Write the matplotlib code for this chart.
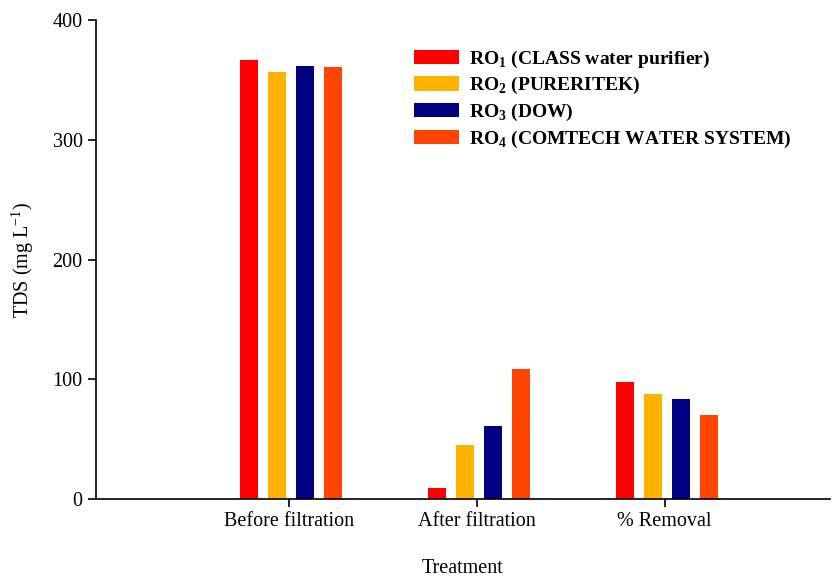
import numpy as np
import matplotlib.pyplot as plt

plt.rcParams['font.family'] = ['Liberation Serif', 'DejaVu Serif']
plt.rcParams['mathtext.fontset'] = 'custom'
plt.rcParams['mathtext.rm'] = 'Liberation Serif'
plt.rcParams['mathtext.bf'] = 'Liberation Serif:bold'

# datos
categorias = ['Before filtration', 'After filtration', '% Removal']
ro1 = [366.5, 9.2, 97.7]
ro2 = [356.6, 45.0, 87.7]
ro3 = [361.6, 61.0, 83.5]
ro4 = [360.7, 108.6, 70.1]
etiquetas = [r'RO$_\mathbf{1}$ (CLASS water purifier)',
             r'RO$_\mathbf{2}$ (PURERITEK)',
             r'RO$_\mathbf{3}$ (DOW)',
             r'RO$_\mathbf{4}$ (COMTECH WATER SYSTEM)']
colores = ['#FF0000', '#FFB300', '#000080', '#FF4500']

fig = plt.figure(figsize=(8.4, 5.78), dpi=100)
ax = fig.add_axes([0.114, 0.137, 0.874, 0.828])

x = np.arange(1, len(categorias) + 1)
ancho = 0.096
paso = 0.149
series = [ro1, ro2, ro3, ro4]
for i, (s, c, lab) in enumerate(zip(series, colores, etiquetas)):
    ax.bar(x + (i - 1.5) * paso + 0.01, s, width=ancho, color=c, label=lab)

ax.set_xlim(-0.03, 3.88)
ax.set_ylim(0, 400)
ax.set_yticks([0, 100, 200, 300, 400])
ax.set_xticks(x)
ax.set_xticklabels(categorias)
ax.tick_params(labelsize=14.5, direction='out', length=6, width=1.2)
for lado in ['top', 'right']:
    ax.spines[lado].set_visible(False)
for lado in ['left', 'bottom']:
    ax.spines[lado].set_linewidth(1.2)

ax.set_xlabel('Treatment', fontsize=14.5, labelpad=20)
ax.set_ylabel(r'TDS (mg L$^\mathregular{-1}$)', fontsize=14.5, labelpad=12)

ax.legend(loc='upper left', bbox_to_anchor=(0.410, 0.977), frameon=False,
          handlelength=2.3, handleheight=0.75,
          labelspacing=0.28, handletextpad=0.5, borderpad=0.4,
          prop={'weight': 'bold', 'size': 14})

fig.savefig('out.png', dpi=100)
